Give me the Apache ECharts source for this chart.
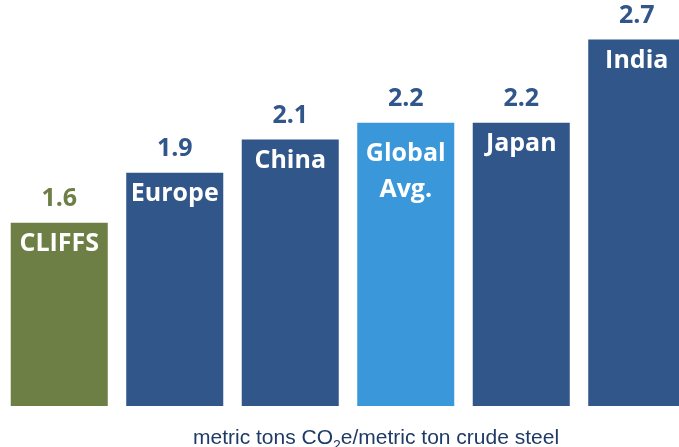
<!DOCTYPE html>
<html>
<head>
<meta charset="utf-8">
<script src="https://cdn.jsdelivr.net/npm/echarts@6/dist/echarts.min.js"></script>
<style>html,body{margin:0;padding:0;background:#fff;overflow:hidden;}#c{width:679px;height:447px;}</style>
</head>
<body>
<div id="c"></div>
<script>
var categories = ['CLIFFS', 'Europe', 'China', 'Global\nAvg.', 'Japan', 'India'];
var values = [1.6, 1.9, 2.1, 2.2, 2.2, 2.7];
var barColors = ['#6E7F45', '#31568A', '#31568A', '#3A97DA', '#31568A', '#31568A'];
var valueColors = ['#6E7F45', '#31568A', '#31568A', '#31568A', '#31568A', '#31568A'];

var chart = echarts.init(document.getElementById('c'));
var font = '"Open Sans", Lato, sans-serif';
var sub = 'Liberation Sans, Arial, sans-serif';
chart.setOption({
  animation: false,
  grid: { left: 1.5, width: 693, top: 0, bottom: 41, containLabel: false, outerBoundsMode: 'none' },
  xAxis: {
    type: 'category', data: categories,
    axisLine: { show: false }, axisTick: { show: false }, axisLabel: { show: false }, splitLine: { show: false }
  },
  yAxis: {
    type: 'value', min: 0.5, max: 2.937,
    axisLine: { show: false }, axisTick: { show: false }, axisLabel: { show: false }, splitLine: { show: false }
  },
  series: [
    {
      type: 'bar', barCategoryGap: '16%', barGap: '-100%',
      data: values.map(function (v, i) {
        var d = { value: v, itemStyle: { color: barColors[i] } };
        if (categories[i].indexOf('\n') >= 0) d.label = { distance: 6, padding: [7, 0, 0, 0] };
        return d;
      }),
      label: {
        show: true, position: 'insideTop', distance: 3,
        formatter: function (p) { return categories[p.dataIndex]; },
        color: '#ffffff', fontFamily: font, fontWeight: 'bold', fontSize: 25, lineHeight: 36
      }
    },
    {
      type: 'bar', barCategoryGap: '16%', barGap: '-100%',
      data: values.map(function (v, i) {
        return { value: v, itemStyle: { color: 'rgba(0,0,0,0)' }, label: { color: valueColors[i] } };
      }),
      label: {
        show: true, position: 'top', distance: 11,
        formatter: function (p) { return values[p.dataIndex].toFixed(1); },
        fontFamily: font, fontWeight: 'bold', fontSize: 25
      },
      silent: true
    }
  ],
  title: {
    left: 188, top: 418,
    text: '{a|metric tons CO}{s|2}{a|e/metric ton crude steel}',
    textStyle: {
      rich: {
        a: { fontFamily: sub, fontSize: 21, fontWeight: 'normal', color: '#1F3A66', verticalAlign: 'bottom', lineHeight: 26 },
        s: { fontFamily: sub, fontSize: 14, fontWeight: 'normal', color: '#1F3A66', verticalAlign: 'bottom', padding: [0, 0, -4, 0], lineHeight: 26 }
      }
    }
  }
});
</script>
</body>
</html>
